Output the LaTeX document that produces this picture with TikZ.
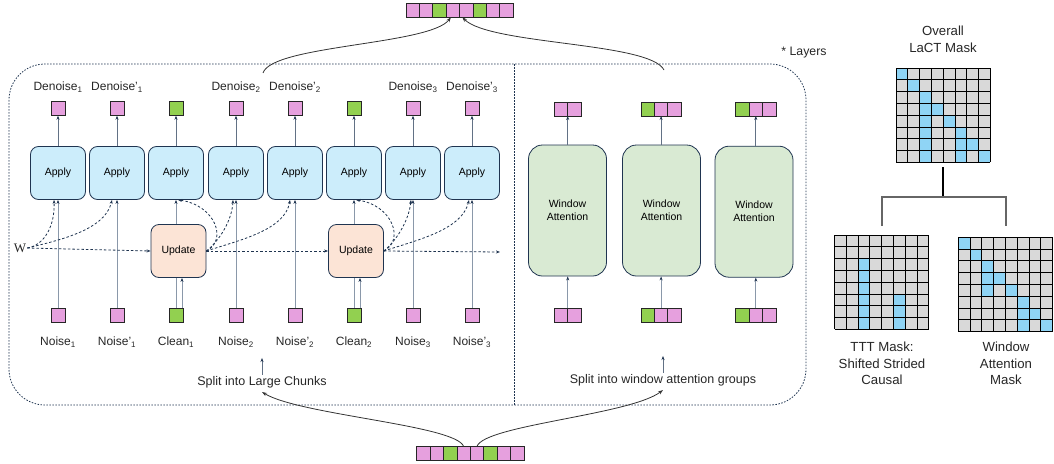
\documentclass[tikz,border=0pt]{standalone}
\usepackage{fontspec}
\setmainfont{Liberation Sans}
\newfontfamily\serifw{Liberation Serif}
\usetikzlibrary{arrows.meta,positioning}

\definecolor{pinkcell}{RGB}{230,160,222}
\definecolor{greencell}{RGB}{146,208,80}
\definecolor{applyblue}{RGB}{204,237,251}
\definecolor{updpeach}{RGB}{252,228,214}
\definecolor{wagreen}{RGB}{217,234,211}
\definecolor{navy}{RGB}{31,52,80}
\definecolor{feedgray}{RGB}{138,152,170}
\definecolor{maskgray}{RGB}{217,217,217}
\definecolor{maskblue}{RGB}{143,212,245}

\tikzset{
  cell/.style={draw=black!85, line width=0.8pt, minimum width=13.4pt, minimum height=14pt, inner sep=0pt, outer sep=0pt},
  applybox/.style={draw=navy, fill=applyblue, rounded corners=8pt, minimum width=55pt, minimum height=53pt, line width=0.8pt, font=\fontsize{10.5}{12}\selectfont},
  updbox/.style={applybox, fill=updpeach},
  wabox/.style={applybox, fill=wagreen, minimum width=78pt, minimum height=131pt, rounded corners=14pt, align=center, font=\fontsize{10.5}{13}\selectfont},
  tip/.style={-{Stealth[length=4pt,width=3pt,color=navy]}},
  feed/.style={tip, feedgray, line width=1pt},
  outarr/.style={tip, navy!70, line width=0.8pt},
  wdash/.style={tip, navy, line width=0.8pt, dash pattern=on 2.5pt off 2pt},
  frame/.style={navy, line width=0.8pt, dash pattern=on 1.5pt off 1.5pt},
  lbl/.style={font=\fontsize{12}{14}\selectfont, inner sep=1pt, text=black!85},
  masklbl/.style={align=center, font=\fontsize{13.2}{16.7}\selectfont, text=black!85},
  curvearr/.style={-{Stealth[length=5pt,width=3.5pt]}, black!80, line width=0.8pt},
}

% a row of token cells: name, left x, centre y, colours
\newcommand\cellrow[4]{%
  \foreach \c [count=\k] in {#4}
    \node[cell, fill=\c] (#1-\k) at (#2+\k*13.4-6.7,#3) {};
}
% an 8x8 mask: left x, top y, blue cells row/col
\newcommand\maskgrid[3]{%
  \fill[maskgray] (#1,#2) rectangle ++(94.4,94.4);
  \foreach \r/\cc in {#3}
    \fill[maskblue] (#1+\cc*11.8,#2+\r*11.8) rectangle ++(11.8,11.8);
  \foreach \k in {0,...,8}{
    \draw[line width=0.9pt] (#1+\k*11.8,#2) -- ++(0,94.4);
    \draw[line width=0.9pt] (#1,#2+\k*11.8) -- ++(94.4,0);
  }
}

\begin{document}
\begin{tikzpicture}[x=1pt, y=-1pt]
\useasboundingbox (0,0) rectangle (1054,463);

% layer frame
\draw[frame, rounded corners=36pt] (9,64) rectangle (806,405);
\draw[frame] (514,64) -- (514,405);
\node[lbl, font=\fontsize{12.3}{14}\selectfont] (layers) at (804,53) {* Layers};

% apply columns
\foreach \x/\c [count=\i] in {58/pinkcell,117/pinkcell,176/greencell,236/pinkcell,295/pinkcell,354/greencell,413/pinkcell,472/pinkcell}{
  \node[applybox] (ap\i) at (\x,173) {Apply};
  \node[cell, fill=\c, minimum width=14pt] (out\i) at (\x,108.7) {};
  \node[cell, fill=\c, minimum width=14pt] (in\i) at (\x,315) {};
  \draw[outarr] (ap\i) -- (out\i);
}
\foreach \i/\t in {1/Denoise\textsubscript{1},2/Denoise'\textsubscript{1},4/Denoise\textsubscript{2},5/Denoise'\textsubscript{2},7/Denoise\textsubscript{3},8/Denoise'\textsubscript{3}}
  \node[lbl, anchor=base] (dn\i) at ([yshift=18.5pt]out\i.center) {\t};
\foreach \i/\t in {1/Noise\textsubscript{1},2/Noise'\textsubscript{1},3/Clean\textsubscript{1},4/Noise\textsubscript{2},5/Noise'\textsubscript{2},6/Clean\textsubscript{2},7/Noise\textsubscript{3},8/Noise'\textsubscript{3}}
  \node[lbl, anchor=base] (nz\i) at ([yshift=-30.7pt]in\i.center) {\t};
\foreach \i in {1,2,4,5,7,8}
  \draw[feed] (in\i) -- (ap\i);

% updates
\node[updbox] (up1) at (178.5,251) {Update};
\node[updbox] (up2) at (356,251) {Update};
\coordinate (cl1) at ([xshift=6pt]in3.north);
\coordinate (cl2) at ([xshift=6pt]in6.north);
\draw[feed, -] (in3) -- (in3 |- up1.south);
\draw[feed] (in3 |- up1.north) -- (ap3);
\draw[feed] (cl1) -- (cl1 |- up1.south);
\draw[feed, -] (in6) -- (in6 |- up2.south);
\draw[feed] (in6 |- up2.north) -- (ap6);
\draw[feed] (cl2) -- (cl2 |- up2.south);

% fast weights
\node[font=\serifw\fontsize{13}{14}\selectfont, inner sep=1pt, text=black!85] (w) at (20,248) {W};
\draw[wdash] (w.east) -- (up1.west);
\draw[wdash] (w.east) .. controls (45,245) and (55,225) .. ([xshift=-4pt]ap1.south);
\draw[wdash] (w.east) .. controls (60,240) and (105,230) .. ([xshift=-5pt]ap2.south);
\draw[wdash] (up1.east) .. controls (228,240) and (215,205) .. ([xshift=2pt]ap3.south);
\draw[wdash] (up1.east) .. controls (220,240) and (232,220) .. ([xshift=-3pt]ap4.south);
\draw[wdash] (up1.east) .. controls (240,240) and (285,230) .. ([xshift=-5pt]ap5.south);
\draw[wdash] (up1.east) -- (up2.west);
\draw[wdash] (up2.east) .. controls (405,240) and (392,205) .. ([xshift=2pt]ap6.south);
\draw[wdash] (up2.east) .. controls (397,240) and (409,220) .. ([xshift=-2pt]ap7.south);
\draw[wdash] (up2.east) .. controls (417,240) and (462,230) .. ([xshift=-3pt]ap8.south);
\coordinate (wend) at (500,252);
\draw[wdash] (up2.east) -- (wend);

% window attention
\node[wabox] (wa1) at (567.5,210.5) {Window\\Attention};
\node[wabox] (wa2) at (661.5,210.5) {Window\\Attention};
\node[wabox] (wa3) at (754,211.7) {Window\\Attention};
\cellrow{wt1}{554.3}{109}{pinkcell,pinkcell}
\cellrow{wt2}{641}{109}{greencell,pinkcell,pinkcell}
\cellrow{wt3}{735.7}{109}{greencell,pinkcell,pinkcell}
\cellrow{wb1}{554.3}{315}{pinkcell,pinkcell}
\cellrow{wb2}{641}{315}{greencell,pinkcell,pinkcell}
\cellrow{wb3}{735.7}{315}{greencell,pinkcell,pinkcell}
\draw[outarr] (wt1-1.south east |- wa1.north) -- (wt1-1.south east);
\draw[outarr] (wt2-2 |- wa2.north) -- (wt2-2.south);
\draw[outarr] (wt3-2 |- wa3.north) -- (wt3-2.south);
\draw[feed] (wb1-1.north east) -- (wb1-1.north east |- wa1.south);
\draw[feed] (wb2-2.north) -- (wb2-2 |- wa2.south);
\draw[feed] (wb3-2.north) -- (wb3-2 |- wa3.south);

% splits
\node[lbl, font=\fontsize{12.5}{14}\selectfont] (split1) at (262,382) {Split into Large Chunks};
\node[lbl, font=\fontsize{12.5}{14}\selectfont] (split2) at (663,380) {Split into window attention groups};
\draw[outarr] (split1.north) -- ++(0,-17);
\draw[outarr] (split2.north) -- ++(0,-17);

% input and output sequences
\cellrow{seq}{406}{10.3}{pinkcell,pinkcell,greencell,pinkcell,pinkcell,greencell,pinkcell,pinkcell}
\cellrow{src}{416.7}{453.3}{pinkcell,pinkcell,greencell,pinkcell,pinkcell,greencell,pinkcell,pinkcell}
\draw[curvearr] (src-4.north) .. controls (455,425) and (300,415) .. ([yshift=-3pt]split1.south);
\draw[curvearr] (src-5.north) .. controls (485,425) and (630,415) .. ([yshift=-3pt]split2.south);
\coordinate (fr1) at (263,73);
\coordinate (fr2) at (664,70);
\draw[curvearr] (fr1) .. controls (272,45) and (430,45) .. ([xshift=-2pt]seq-4.south);
\draw[curvearr] (fr2) .. controls (650,42) and (490,45) .. ([xshift=-4pt]seq-5.south);

% masks
\node[masklbl] (lactlbl) at (943,39.5) {Overall\\LaCT Mask};
\maskgrid{896}{68}{0/0,1/1,2/2,3/2,3/3,4/2,4/4,5/2,5/5,6/2,6/5,6/6,7/2,7/5,7/7}
\maskgrid{834.5}{235}{2/2,3/2,4/2,5/2,5/5,6/2,6/5,7/2,7/5}
\maskgrid{958.3}{237.3}{0/0,1/1,2/2,3/2,3/3,4/2,4/4,5/5,6/5,6/6,7/5,7/7}
\draw[line width=1.5pt] (943,167) -- (943,197);
\draw[black!60, line width=1.2pt] (882,226) -- (882,197) -- (1006,197) -- (1006,226);
\node[masklbl] (tttlbl) at (882,363.5) {TTT Mask:\\Shifted Strided\\Causal};
\node[masklbl] (walbl) at (1006,363.5) {Window\\Attention\\Mask};
\end{tikzpicture}
\end{document}
